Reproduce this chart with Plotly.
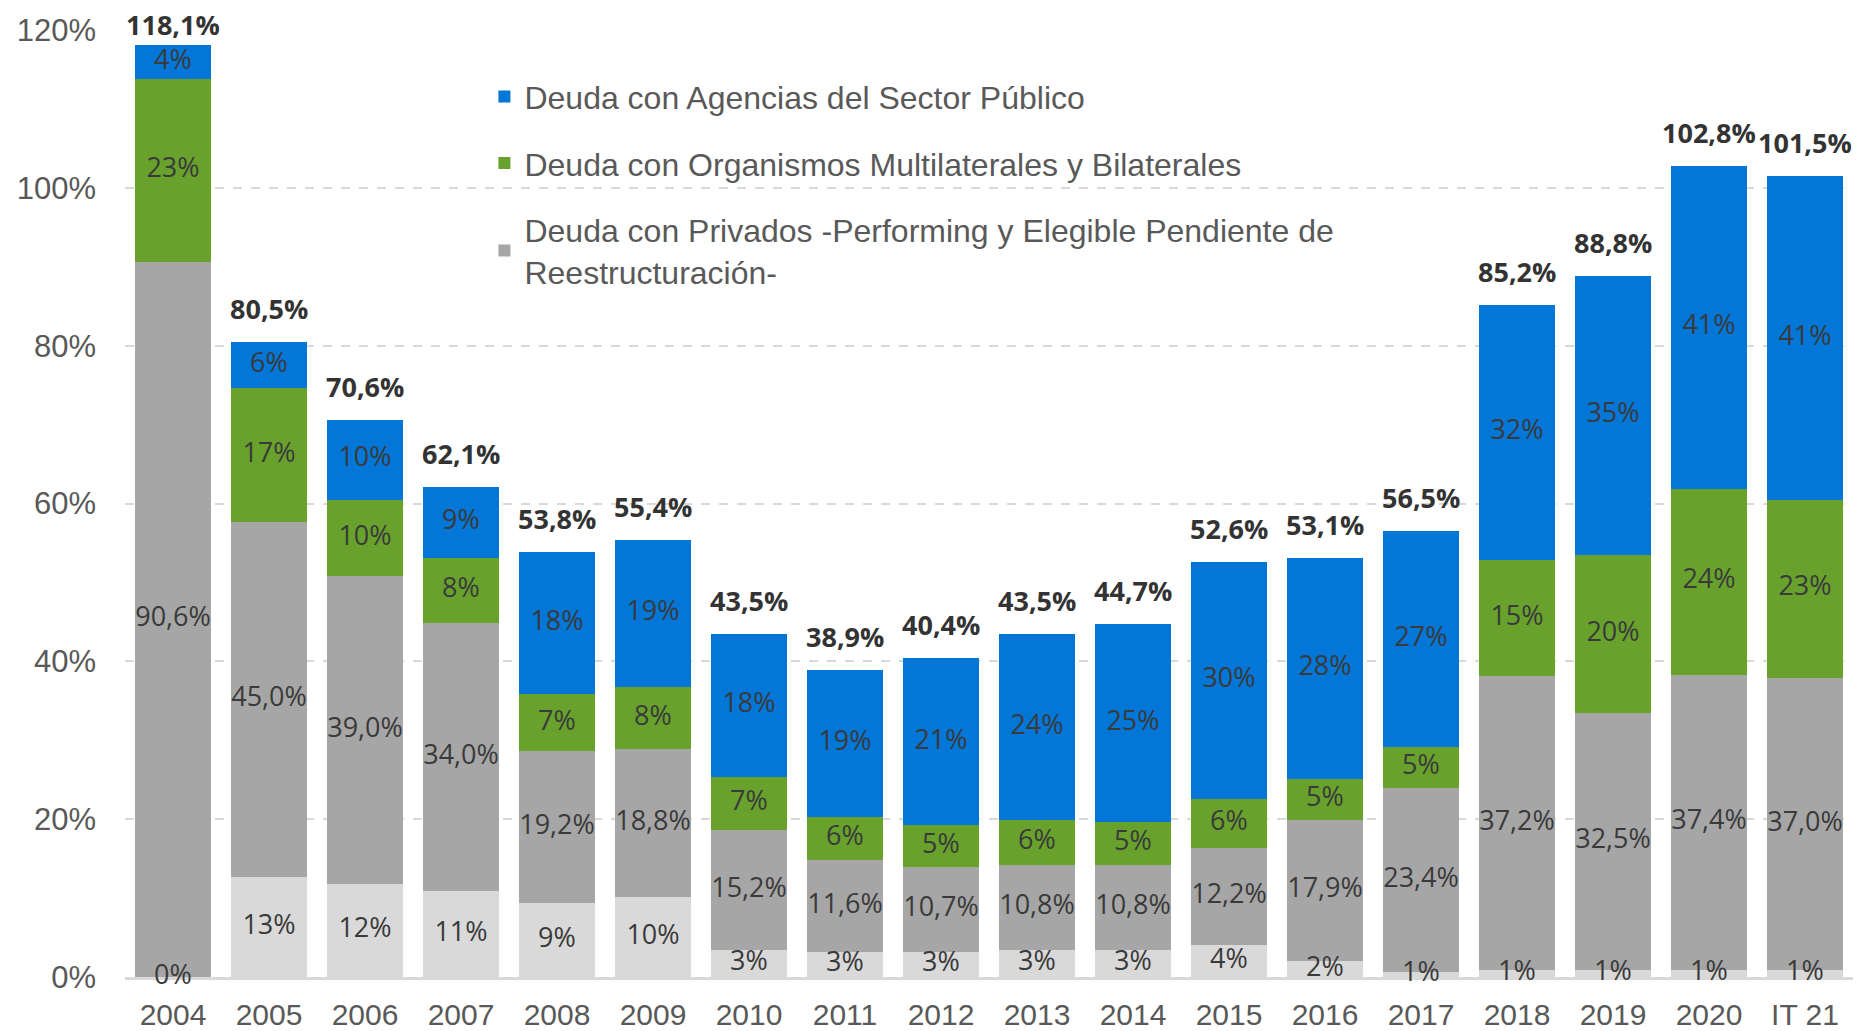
import plotly.graph_objects as go

categories = ["2004", "2005", "2006", "2007", "2008", "2009", "2010", "2011", "2012",
              "2013", "2014", "2015", "2016", "2017", "2018", "2019", "2020", "IT 21"]

# Light grey bottom segment (not in legend)
otros = [0.0, 12.7, 11.8, 10.9, 9.4, 10.1, 3.4, 3.2, 3.2, 3.4, 3.4, 4.1, 2.0, 0.6, 0.9, 0.9, 0.9, 0.9]
# Deuda con Privados -Performing y Elegible Pendiente de Reestructuración-
privados = [90.6, 45.0, 39.0, 34.0, 19.2, 18.8, 15.2, 11.6, 10.7, 10.8, 10.8, 12.2, 17.9, 23.4, 37.2, 32.5, 37.4, 37.0]
# Deuda con Organismos Multilaterales y Bilaterales
multilaterales = [23.2, 16.9, 9.7, 8.2, 7.2, 7.9, 6.8, 5.5, 5.3, 5.7, 5.4, 6.3, 5.2, 5.1, 14.7, 20.1, 23.6, 22.6]
# Deuda con Agencias del Sector Público
agencias = [4.3, 5.9, 10.1, 9.0, 18.0, 18.6, 18.1, 18.6, 21.2, 23.6, 25.1, 30.0, 28.0, 27.4, 32.4, 35.3, 40.9, 41.0]

y_ticks = [0, 20, 40, 60, 80, 100, 120]

names = {
    "agencias": "Deuda con Agencias del Sector Público",
    "multi": "Deuda con Organismos Multilaterales y Bilaterales",
    "priv": "Deuda con Privados -Performing y Elegible Pendiente de<br>Reestructuración-",
}

C_LIGHT = "#D9D9D9"
C_GREY = "#A6A6A6"
C_GREEN = "#68A22D"
C_BLUE = "#0277D7"
LABEL_COLOR = "#3A3A3A"
TICK_COLOR = "#595959"

def fmt_int(v):
    return f"{int(round(v + 1e-9)):d}%"

def fmt_dec(v):
    return f"{v:.1f}".replace(".", ",") + "%"

fig = go.Figure()

series = [
    ("otros", otros, C_LIGHT, False, fmt_int),
    ("priv", privados, C_GREY, True, fmt_dec),
    ("multi", multilaterales, C_GREEN, True, fmt_int),
    ("agencias", agencias, C_BLUE, True, fmt_int),
]

legend_rank = {"agencias": 1, "multi": 2, "priv": 3}

for key, vals, color, show, f in series:
    fig.add_trace(go.Bar(
        x=categories, y=vals, name=names.get(key, key), marker_color=color,
        marker_line_width=0, showlegend=show,
        legendgroup=key, legendrank=legend_rank.get(key, 10),
        hoverinfo="skip",
    ))

# segment labels at segment midpoints
base = [0.0] * len(categories)
for key, vals, color, show, f in series:
    mids = [b + v / 2 for b, v in zip(base, vals)]
    fig.add_trace(go.Scatter(
        x=categories, y=mids, mode="text", text=[f(v) for v in vals],
        textfont=dict(family="Open Sans", size=27, color=LABEL_COLOR),
        showlegend=False, cliponaxis=False, hoverinfo="skip",
    ))
    base = [b + v for b, v in zip(base, vals)]

totals = base
for i, t in enumerate(totals):
    fig.add_annotation(
        x=i, y=t, xref="x", yref="y", text="<b>" + fmt_dec(t) + "</b>", showarrow=False,
        yanchor="bottom", yshift=13 if t < 115 else 0,
        font=dict(family="Open Sans", size=27, color="#333333"),
    )

fig.update_layout(
    barmode="stack",
    bargap=0.21,
    width=1870, height=1031,
    margin=dict(l=117, r=25, t=22, b=62, autoexpand=False),
    paper_bgcolor="white", plot_bgcolor="white",
    showlegend=True,
    legend=dict(
        x=0.208, y=0.9586, xanchor="left", yanchor="top",
        bgcolor="rgba(0,0,0,0)",
        traceorder="grouped", tracegroupgap=22,
        font=dict(family="Liberation Sans", size=32, color=TICK_COLOR),
        itemclick=False, itemdoubleclick=False,
    ),
    xaxis=dict(
        type="category", categoryorder="array", categoryarray=categories,
        range=[-0.5, len(categories) - 0.5], automargin=False,
        showgrid=False, showline=True, linecolor="#D9D9D9", linewidth=3,
        layer="below traces",
        tickfont=dict(family="Liberation Sans", size=30, color=TICK_COLOR),
        ticks="", ticklabelstandoff=9,
    ),
    yaxis=dict(
        range=[0, 120], tickvals=y_ticks, ticktext=[f"{v}%" for v in y_ticks],
        automargin=False, layer="below traces",
        showgrid=True, gridcolor="#D9D9D9", gridwidth=2, griddash="dash",
        zeroline=False, showline=False,
        tickfont=dict(family="Liberation Sans", size=31, color=TICK_COLOR),
        ticks="", ticklabelstandoff=28,
    ),
    hovermode=False,
)

fig.write_html("out.html")
